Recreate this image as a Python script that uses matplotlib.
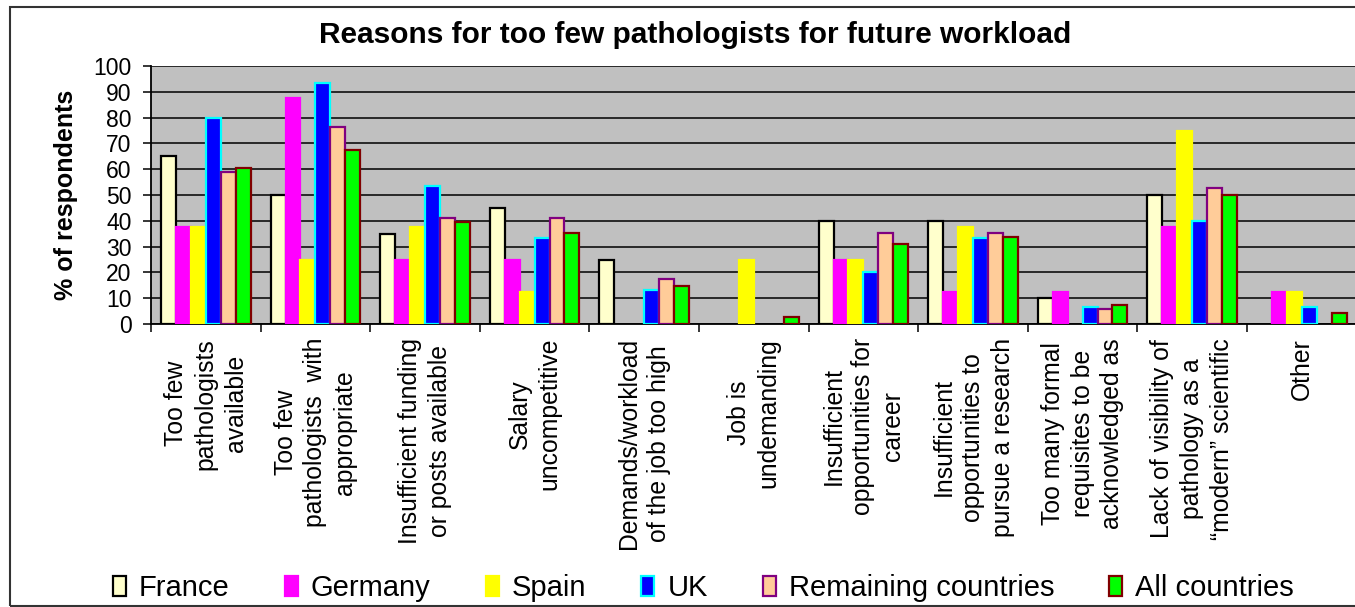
import numpy as np
import matplotlib
matplotlib.use("Agg")
import matplotlib.pyplot as plt
from matplotlib.patches import Rectangle

plt.rcParams['font.family'] = ['Liberation Sans', 'DejaVu Sans']

# -----------------------------
# Data (% of respondents)
# -----------------------------
categories = [
    "Too few\npathologists\navailable",
    "Too few\npathologists  with\nappropriate",
    "Insufficient funding\nor posts available",
    "Salary\nuncompetitive",
    "Demands/workload\nof the job too high",
    "Job is\nundemanding",
    "Insufficient\nopportunities for\ncareer",
    "Insufficient\nopportunities to\npursue a research",
    "Too many formal\nrequisites to be\nacknowledged as",
    "Lack of visibility of\npathology as a\n\u201cmodern\u201d scientific",
    "Other",
]
france    = [65, 50, 35, 45, 25, 0, 40, 40, 10, 50, 0]
germany   = [37.5, 87.5, 25, 25, 0, 0, 25, 12.5, 12.5, 37.5, 12.5]
spain     = [37.5, 25, 37.5, 12.5, 0, 25, 25, 37.5, 0, 75, 12.5]
uk        = [80, 93.3, 53.3, 33.3, 13.3, 0, 20, 33.3, 6.7, 40, 6.7]
remaining = [58.8, 76.5, 41.2, 41.2, 17.6, 0, 35.3, 35.3, 5.9, 52.9, 0]
all_c     = [60.3, 67.6, 39.7, 35.3, 14.7, 2.9, 30.9, 33.8, 7.4, 50, 4.4]

series = [
    ("France", france, "#FFFFCC", "black"),
    ("Germany", germany, "#FF00FF", "#FF00FF"),
    ("Spain", spain, "#FFFF00", "#FFFF00"),
    ("UK", uk, "#0000FF", "#00FFFF"),
    ("Remaining countries", remaining, "#FFCC99", "#800080"),
    ("All countries", all_c, "#00FF00", "#800000"),
]

# -----------------------------
# Figure / axes
# -----------------------------
W, H = 1355, 607
fig = plt.figure(figsize=(W / 100, H / 100), dpi=100)
ax = fig.add_axes([151 / W, 1 - 324 / H, 1205.6 / W, 258 / H])
ax.set_facecolor("#C0C0C0")

# outer frame
fig.patches.append(Rectangle((10 / W, 1 - 606 / H), 1.2, 599 / H, transform=fig.transFigure,
                             fill=False, edgecolor="#333333", linewidth=1.5))

n = len(categories)
x = np.arange(n)
bw = 0.136
start = (1 - 6 * bw) / 2

for k, (name, vals, fc, ec) in enumerate(series):
    lw = [1.6 if v > 0 else 0 for v in vals]
    ax.bar(x + start + k * bw, vals, width=bw, align='edge', color=fc, edgecolor=ec,
           linewidth=lw, label=name, zorder=3)

# -----------------------------
# Axes styling
# -----------------------------
ax.set_xlim(0, n)
ax.set_ylim(0, 100)
ax.set_yticks(np.arange(0, 101, 10))
ax.yaxis.grid(True, color="black", linewidth=1.1, zorder=0)
ax.set_axisbelow(True)
ax.tick_params(axis='y', length=6, width=1.1, labelsize=16.5, pad=8, direction='out')

ax.set_xticks(x + 0.5)
ax.set_xticklabels(categories, rotation=90, fontsize=17.8, linespacing=1.3,
                   multialignment='center', va='top')
ax.set_xticks(np.arange(0, n + 1), minor=True)
ax.tick_params(axis='x', which='major', length=0, pad=10)
ax.tick_params(axis='x', which='minor', length=5.5, width=1.1, direction='out')

for s in ["top", "right"]:
    ax.spines[s].set_visible(False)
for s in ["left", "bottom"]:
    ax.spines[s].set_linewidth(1.3)
    ax.spines[s].set_color("black")

ax.set_ylabel("% of respondents", fontsize=18, fontweight='bold', labelpad=11)

fig.text(695 / W, 1 - 35 / H, "Reasons for too few pathologists for future workload",
         ha='center', va='center', fontsize=21.5, fontweight='bold')

fig.legend(loc='center', bbox_to_anchor=(703.5 / W, 1 - 588 / H), ncol=6, frameon=False,
           fontsize=21, handlelength=0.45, handleheight=0.7, handletextpad=0.45,
           columnspacing=1.88, borderaxespad=0)

fig.savefig("out.png", dpi=100)
